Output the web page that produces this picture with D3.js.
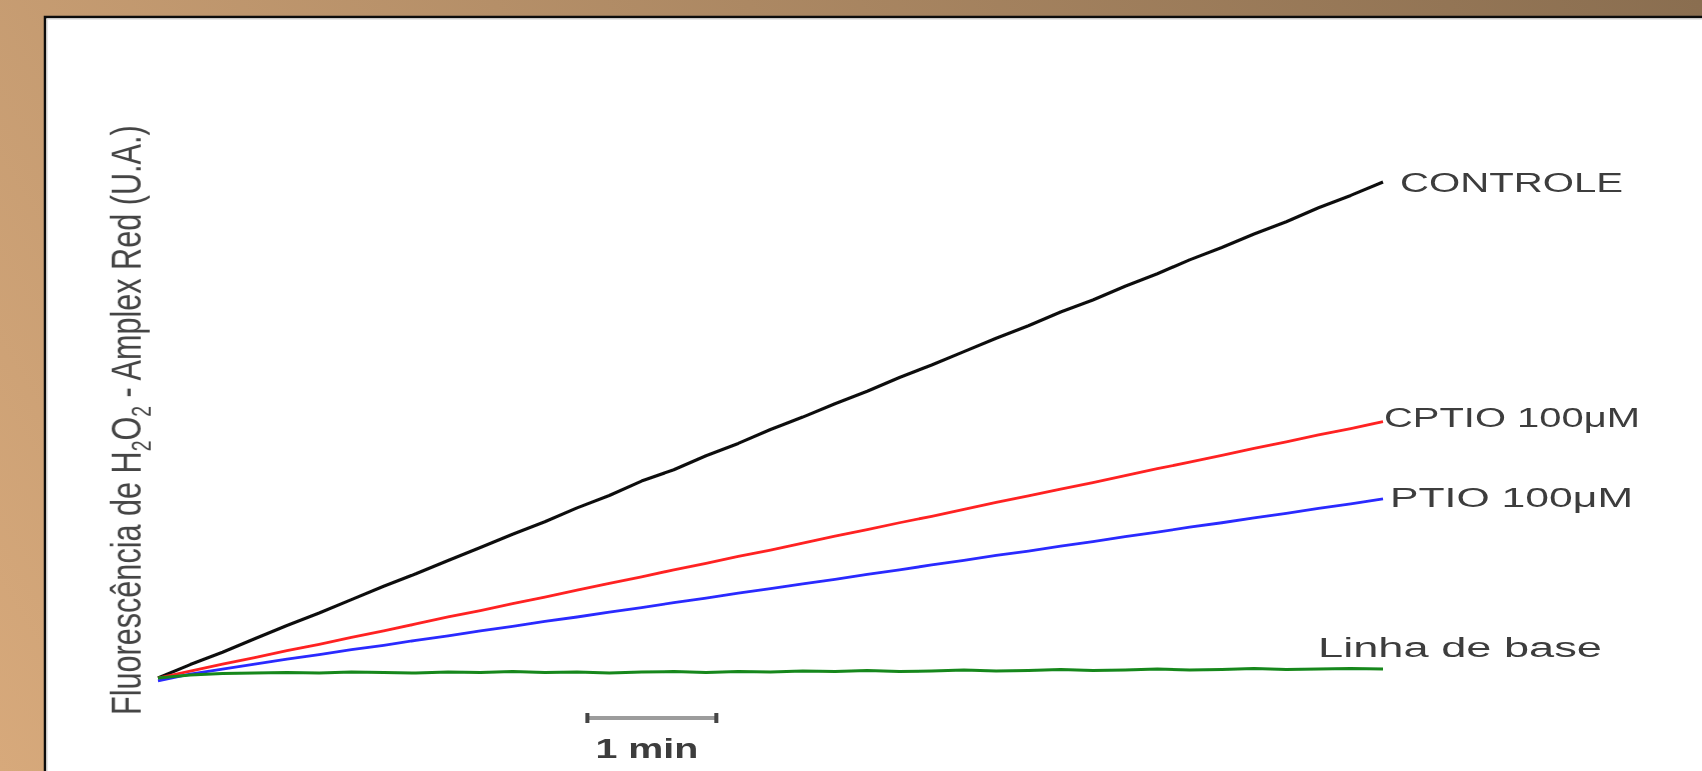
<!DOCTYPE html>
<html>
<head>
<meta charset="utf-8">
<script src="https://cdn.jsdelivr.net/npm/d3@7"></script>
<style>
  html, body { margin: 0; padding: 0; overflow: hidden; background: #fff; }
  svg { display: block; }
</style>
</head>
<body>
<svg id="chart" width="1702" height="771"></svg>
<script>
// Time axis (minutes) shared by every trace
const minutes = [0, 0.25, 0.5, 0.75, 1, 1.25, 1.5, 1.75, 2, 2.25, 2.5, 2.75, 3, 3.25, 3.5, 3.75,
  4, 4.25, 4.5, 4.75, 5, 5.25, 5.5, 5.75, 6, 6.25, 6.5, 6.75, 7, 7.25, 7.5, 7.75,
  8, 8.25, 8.5, 8.75, 9, 9.25, 9.5];

// H2O2 fluorescence (Amplex Red, arbitrary units)
const controle = [0, 2.7, 5.2, 7.9, 10.6, 13.1, 15.8, 18.5, 21.0, 23.7, 26.3, 29.0, 31.5, 34.3, 36.8, 39.7,
  42.0, 44.8, 47.3, 50.1, 52.6, 55.3, 57.8, 60.6, 63.1, 65.8, 68.5, 71.0, 73.8, 76.2, 79.0, 81.5,
  84.3, 86.8, 89.5, 92.0, 94.8, 97.3, 100];
const cptio = [0, 1.4, 2.8, 4.1, 5.5, 6.8, 8.2, 9.5, 10.9, 12.3, 13.6, 15.0, 16.3, 17.7, 19.1, 20.4,
  21.8, 23.1, 24.5, 25.8, 27.2, 28.6, 29.9, 31.3, 32.6, 34.0, 35.4, 36.7, 38.1, 39.4, 40.8, 42.2,
  43.5, 44.9, 46.3, 47.6, 49.0, 50.3, 51.7];
const ptio = [-0.6, 0.8, 1.8, 2.8, 3.8, 4.7, 5.7, 6.6, 7.6, 8.5, 9.5, 10.4, 11.4, 12.3, 13.3, 14.2,
  15.2, 16.1, 17.1, 18.0, 19.0, 19.9, 20.9, 21.8, 22.8, 23.7, 24.7, 25.6, 26.6, 27.5, 28.5, 29.4,
  30.4, 31.3, 32.3, 33.2, 34.2, 35.1, 36.1];
const linhaDeBase = [0, 0.6, 0.9, 1.0, 1.1, 1.0, 1.2, 1.1, 1.0, 1.2, 1.1, 1.3, 1.1, 1.2, 1.0, 1.2,
  1.3, 1.1, 1.3, 1.2, 1.4, 1.3, 1.5, 1.3, 1.4, 1.6, 1.4, 1.5, 1.7, 1.5, 1.6, 1.8,
  1.6, 1.7, 1.9, 1.7, 1.8, 1.9, 1.8];

const seriesNames = ["CONTROLE", "CPTIO 100μM", "PTIO 100μM", "Linha de base"];
const seriesValues = [controle, cptio, ptio, linhaDeBase];
const scaleBarLabel = "1 min";

// Presentation: colours and label placement relative to the end of each trace
const seriesStyle = [
  { color: "#111111", stroke: 3.2, dx: 17, dy: 10, width: 223 },
  { color: "#ff2222", stroke: 2.8, dx: 1, dy: 5, width: 256 },
  { color: "#2a2aff", stroke: 2.8, dx: 7, dy: 8, width: 243 },
  { color: "#15871a", stroke: 3.0, dx: -65, dy: -12, width: 284 }
];

const W = 1702, H = 771;
const svg = d3.select("#chart");
const defs = svg.append("defs");

// Warm brown backdrop, darker toward the upper right
const bg = defs.append("linearGradient").attr("id", "bgGrad")
  .attr("gradientUnits", "userSpaceOnUse")
  .attr("x1", 0).attr("y1", H).attr("x2", 1590).attr("y2", -182);
bg.append("stop").attr("offset", "0%").attr("stop-color", "#d7a97b");
bg.append("stop").attr("offset", "100%").attr("stop-color", "#8a6e50");

const soft = defs.append("filter").attr("id", "soft")
  .attr("x", "-5%").attr("y", "-5%").attr("width", "110%").attr("height", "110%");
soft.append("feGaussianBlur").attr("stdDeviation", 0.6);

svg.append("rect").attr("width", W).attr("height", H).attr("fill", "url(#bgGrad)");

// White card with a dark edge on top and left
const cardX = 45, cardY = 17;
svg.append("rect").attr("x", cardX).attr("y", cardY)
  .attr("width", W - cardX).attr("height", H - cardY).attr("fill", "#ffffff");
svg.append("path")
  .attr("d", `M${cardX},${H} V${cardY} H${W}`)
  .attr("fill", "none").attr("stroke", "#0c0c0c").attr("stroke-width", 2.5);
svg.append("path")
  .attr("d", `M${cardX + 2},${H} V${cardY + 2} H${W}`)
  .attr("fill", "none").attr("stroke", "#cfcfcf").attr("stroke-width", 1);

const x = d3.scaleLinear().domain([0, 9.5]).range([158, 1383]);
const y = d3.scaleLinear().domain([0, 100]).range([678, 182]);

const plot = svg.append("g").attr("filter", "url(#soft)");

const line = d3.line()
  .x((d, i) => x(minutes[i]))
  .y(d => y(d));

seriesValues.forEach((vals, k) => {
  plot.append("path")
    .datum(vals)
    .attr("d", line)
    .attr("fill", "none")
    .attr("stroke", seriesStyle[k].color)
    .attr("stroke-width", seriesStyle[k].stroke)
    .attr("stroke-linejoin", "round");
});

// Trace labels at the right-hand ends
seriesValues.forEach((vals, k) => {
  const st = seriesStyle[k];
  plot.append("text")
    .attr("x", x(minutes[minutes.length - 1]) + st.dx)
    .attr("y", y(vals[vals.length - 1]) + st.dy)
    .attr("font-family", "Arial, 'Liberation Sans', sans-serif")
    .attr("font-size", 27)
    .attr("fill", "#3c3c3c")
    .attr("textLength", st.width)
    .attr("lengthAdjust", "spacingAndGlyphs")
    .text(seriesNames[k]);
});

// Time scale bar: one minute
const barStart = 3.33;
const barY = 718;
plot.append("line")
  .attr("x1", x(barStart)).attr("x2", x(barStart + 1))
  .attr("y1", barY).attr("y2", barY)
  .attr("stroke", "#9c9c9c").attr("stroke-width", 4);
[barStart, barStart + 1].forEach(t => {
  plot.append("rect")
    .attr("x", x(t) - 2).attr("y", barY - 5)
    .attr("width", 4).attr("height", 10)
    .attr("fill", "#444");
});
plot.append("text")
  .attr("x", x(barStart) + 8).attr("y", 758)
  .attr("font-family", "Arial, 'Liberation Sans', sans-serif")
  .attr("font-size", 27).attr("font-weight", "bold")
  .attr("fill", "#3c3c3c")
  .attr("textLength", 103).attr("lengthAdjust", "spacingAndGlyphs")
  .text(scaleBarLabel);

// Vertical axis title, rotated
const yTitle = plot.append("text")
  .attr("font-family", "Arial, 'Liberation Sans', sans-serif")
  .attr("font-size", 30)
  .attr("fill", "#444");
yTitle.append("tspan").text("Fluorescência de H");
yTitle.append("tspan").attr("font-size", 19).attr("dy", 7).text("2");
yTitle.append("tspan").attr("dy", -7).text("O");
yTitle.append("tspan").attr("font-size", 19).attr("dy", 7).text("2");
yTitle.append("tspan").attr("dy", -7).text(" - Amplex Red (U.A.)");
const titleLen = yTitle.node().getComputedTextLength();
yTitle.attr("transform", `translate(141,715) rotate(-90) scale(${590 / titleLen},1.42)`);
</script>
</body>
</html>
